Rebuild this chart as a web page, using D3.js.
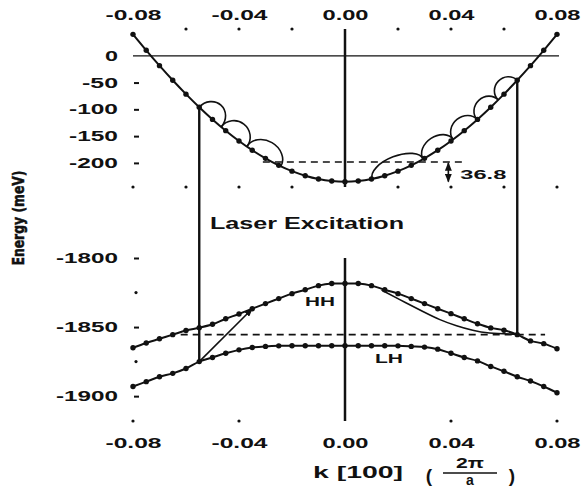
<!DOCTYPE html>
<html>
<head>
<meta charset="utf-8">
<script src="https://cdn.jsdelivr.net/npm/d3@7/dist/d3.min.js"></script>
<style>
  body { margin: 0; background: #fff; }
  text { font-family: "Liberation Sans", Arial, sans-serif; font-weight: bold; fill: #111; }
</style>
</head>
<body>
<svg id="chart" width="582" height="487"></svg>
<script>
// wave vector samples, k [100] in units of 2pi/a
const kValues = [-0.08, -0.075, -0.07, -0.065, -0.06, -0.055, -0.05, -0.045, -0.04, -0.035, -0.03,
  -0.025, -0.02, -0.015, -0.01, -0.005, 0, 0.005, 0.01, 0.015, 0.02, 0.025, 0.03, 0.035, 0.04,
  0.045, 0.05, 0.055, 0.06, 0.065, 0.07, 0.075, 0.08];

// energies in meV
const cbEnergy = [40, 10.2, -18.4, -45.7, -71.6, -96, -118.8, -139.8, -159, -176.3, -191.5,
  -204.6, -215.4, -223.9, -230.1, -233.8, -235, -233.8, -230.1, -223.9, -215.4, -204.6, -191.5,
  -176.3, -159, -139.8, -118.8, -96, -71.6, -45.7, -18.4, 10.2, 40];
const hhEnergy = [-1865, -1861.5, -1858.5, -1855.5, -1852.5, -1850.5, -1848, -1844, -1840.5,
  -1836.7, -1833, -1829.4, -1825.8, -1823, -1820, -1818.5, -1818.5, -1818.5, -1820, -1823,
  -1825.8, -1829.4, -1833, -1836.7, -1840.3, -1844, -1847.6, -1850.6, -1852.3, -1855.5, -1860,
  -1862, -1865.7];
const lhEnergy = [-1893, -1889.5, -1886, -1883.5, -1880, -1875, -1872, -1869, -1866.5, -1864.8,
  -1864, -1863.6, -1863.5, -1863.5, -1863.5, -1863.5, -1863.5, -1863.5, -1863.5, -1863.5,
  -1863.6, -1864, -1864.5, -1866, -1869, -1872, -1874.5, -1878.5, -1882, -1886, -1889, -1893,
  -1897.5];

// laser excitation: k, energy in conduction band, energy in valence band
const laserK = [-0.055, 0.065];
const laserTopE = [-96, -45.7];
const laserBottomE = [-1875, -1855.5];

// LO phonon cascade (36.8 meV steps)
const leftCascadeK = [-0.055, -0.0467, -0.037, -0.0242];
const leftCascadeE = [-96, -132.8, -169.6, -206.4];
const rightCascadeK = [0.065, 0.0578, 0.0499, 0.0408, 0.0295, 0.0103];
const rightCascadeE = [-45.7, -82.5, -119.3, -156.1, -192.9, -229.7];

const phononLevel = -198.2;
const cbMinimum = -235;
const phononLineK = [-0.031, 0.045];
const phononArrowK = 0.039;
const hhLineE = -1855.5;
const hhLineK = [-0.062, 0.0755];

// hole relaxation paths
const holeArrowK = [-0.055, -0.035];
const holeArrowE = [-1875, -1836.7];
const holeRelaxK = [0.0138, 0.0233, 0.0296, 0.0358, 0.0421, 0.0484, 0.0535, 0.0648];
const holeRelaxE = [-1823.2, -1832.8, -1838.9, -1844.9, -1849.2, -1852.6, -1854.5, -1855.2];

// axes
const xTickLabels = [-0.08, -0.04, 0, 0.04, 0.08];
const xTopDots = [-0.06, -0.04, -0.02, 0.02, 0.04, 0.06];
const xMidDots = [-0.08, -0.06, -0.04, -0.02, 0.02, 0.04, 0.06, 0.08];
const xBottomDots = [-0.08, -0.04, 0.04, 0.08];
const upperTicks = [0, -50, -100, -150, -200];
const lowerTicks = [-1800, -1850, -1900];
const lowerMinorTicks = [-1825, -1875];

const upperDomain = [-245, 50];
const lowerDomain = [-1918, -1800];

const svg = d3.select("#chart");
const ink = "#111";

const x = d3.scaleLinear().domain([-0.08, 0.08]).range([133, 557]);
const yU = d3.scaleLinear().domain(upperDomain).range([187, 29]);
const yL = d3.scaleLinear().domain(lowerDomain).range([421, 258]);

// width of the wide tick lettering
const charW = { "-": 10, ".": 7 };
const labelWidth = s => d3.sum(s.split(""), c => charW[c] || 13);
const fmtK = d => d.toFixed(2);
const fmtE = d => String(d);

svg.append("defs").append("marker")
  .attr("id", "head")
  .attr("viewBox", "0 -4 10 8")
  .attr("refX", 9).attr("refY", 0)
  .attr("markerUnits", "userSpaceOnUse")
  .attr("markerWidth", 9).attr("markerHeight", 7)
  .attr("orient", "auto-start-reverse")
  .append("path").attr("d", "M0,-4L10,0L0,4Z").attr("fill", ink);

// top and bottom axes
function styleXAxis(g) {
  g.select(".domain").remove();
  g.selectAll("line").remove();
  g.selectAll("text")
    .attr("font-family", null)
    .style("font-size", "14px")
    .attr("textLength", d => labelWidth(fmtK(d)))
    .attr("lengthAdjust", "spacingAndGlyphs");
}
svg.append("g").attr("transform", "translate(0,29)")
  .call(d3.axisTop(x).tickValues(xTickLabels).tickSize(0).tickPadding(9).tickFormat(fmtK))
  .call(styleXAxis);
svg.append("g").attr("transform", "translate(0,421)")
  .call(d3.axisBottom(x).tickValues(xTickLabels).tickSize(0).tickPadding(17).tickFormat(fmtK))
  .call(styleXAxis);

// left axes
function styleYAxis(g) {
  g.select(".domain").remove();
  g.selectAll("line").attr("stroke", ink).attr("stroke-width", 2);
  g.selectAll("text")
    .attr("font-family", null)
    .style("font-size", "14px")
    .attr("textLength", d => labelWidth(fmtE(d)))
    .attr("lengthAdjust", "spacingAndGlyphs");
}
svg.append("g").attr("transform", "translate(134,0)")
  .call(d3.axisLeft(yU).tickValues(upperTicks).tickFormat(fmtE)
    .tickSizeInner(-5).tickSizeOuter(0).tickPadding(16))
  .call(styleYAxis)
  .call(g => g.selectAll(".tick").filter(d => d === 0).select("line").remove());
svg.append("g").attr("transform", "translate(134,0)")
  .call(d3.axisLeft(yL).tickValues(lowerTicks).tickFormat(fmtE)
    .tickSizeInner(-5).tickSizeOuter(0).tickPadding(16))
  .call(styleYAxis);

// dotted frame ticks
const dots = svg.append("g").attr("fill", ink);
dots.selectAll(".td").data(xTopDots).join("circle")
  .attr("cx", d => x(d)).attr("cy", yU(upperDomain[1])).attr("r", 1.6);
dots.selectAll(".md").data(xMidDots).join("circle")
  .attr("cx", d => x(d)).attr("cy", yU(upperDomain[0])).attr("r", 1.6);
dots.selectAll(".bd").data(xBottomDots).join("circle")
  .attr("cx", d => x(d)).attr("cy", yL(lowerDomain[0])).attr("r", 1.6);
dots.selectAll(".ld").data(lowerMinorTicks).join("circle")
  .attr("cx", 136).attr("cy", d => yL(d)).attr("r", 1.6);

// zero line and k = 0 line
svg.append("line")
  .attr("x1", x(-0.08)).attr("x2", x(0.08) + 2)
  .attr("y1", yU(0)).attr("y2", yU(0))
  .attr("stroke", ink).attr("stroke-width", 1.3);
svg.append("line")
  .attr("x1", x(0)).attr("x2", x(0))
  .attr("y1", yU(upperDomain[1])).attr("y2", yU(upperDomain[0]))
  .attr("stroke", ink).attr("stroke-width", 2.5);
svg.append("line")
  .attr("x1", x(0)).attr("x2", x(0))
  .attr("y1", yL(lowerDomain[1])).attr("y2", yL(lowerDomain[0]))
  .attr("stroke", ink).attr("stroke-width", 2.5);

// dashed levels
svg.append("line")
  .attr("x1", x(phononLineK[0])).attr("x2", x(phononLineK[1]))
  .attr("y1", yU(phononLevel)).attr("y2", yU(phononLevel))
  .attr("stroke", ink).attr("stroke-width", 1.6).attr("stroke-dasharray", "7,5");
svg.append("line")
  .attr("x1", x(hhLineK[0])).attr("x2", x(hhLineK[1]))
  .attr("y1", yL(hhLineE)).attr("y2", yL(hhLineE))
  .attr("stroke", ink).attr("stroke-width", 1.6).attr("stroke-dasharray", "7,5");

// laser excitation lines
svg.selectAll(".laser").data(laserK).join("line")
  .attr("x1", d => x(d)).attr("x2", d => x(d))
  .attr("y1", (d, i) => yU(laserTopE[i]))
  .attr("y2", (d, i) => yL(laserBottomE[i]))
  .attr("stroke", ink).attr("stroke-width", 2.4);

// bands
function band(energies, y) {
  const pts = kValues.map((k, i) => [x(k), y(energies[i])]);
  svg.append("path")
    .attr("d", d3.line().curve(d3.curveCatmullRom)(pts))
    .attr("fill", "none").attr("stroke", ink).attr("stroke-width", 2);
  svg.append("g").selectAll("circle").data(pts).join("circle")
    .attr("cx", d => d[0]).attr("cy", d => d[1]).attr("r", 2.7).attr("fill", ink);
}
band(cbEnergy, yU);
band(hhEnergy, yL);
band(lhEnergy, yL);

// phonon emission loops
function loops(ks, es, h, sweep) {
  const pts = ks.map((k, i) => [x(k), yU(es[i])]);
  const paths = d3.pairs(pts).map(([a, b]) => {
    const L = Math.hypot(b[0] - a[0], b[1] - a[1]);
    const ang = Math.atan2(b[1] - a[1], b[0] - a[0]) * 180 / Math.PI;
    return `M${a}A${L / 2},${h},${ang},0,${sweep},${b}`;
  });
  svg.append("g").selectAll("path").data(paths).join("path")
    .attr("d", d => d).attr("fill", "none").attr("stroke", ink).attr("stroke-width", 1.6);
}
loops(leftCascadeK, leftCascadeE, 16, 1);
loops(rightCascadeK, rightCascadeE, 13, 0);

// 36.8 meV arrow
svg.append("line")
  .attr("x1", x(phononArrowK)).attr("x2", x(phononArrowK))
  .attr("y1", yU(phononLevel) + 1).attr("y2", yU(cbMinimum))
  .attr("stroke", ink).attr("stroke-width", 1.6)
  .attr("marker-start", "url(#head)").attr("marker-end", "url(#head)");
svg.append("text").text("36.8")
  .attr("x", x(phononArrowK) + 12).attr("y", yU(cbMinimum) - 3)
  .style("font-size", "12.5px").attr("textLength", 46).attr("lengthAdjust", "spacingAndGlyphs");

// hole relaxation
svg.append("line")
  .attr("x1", x(holeArrowK[0])).attr("y1", yL(holeArrowE[0]))
  .attr("x2", x(holeArrowK[1])).attr("y2", yL(holeArrowE[1]))
  .attr("stroke", ink).attr("stroke-width", 1.6).attr("marker-end", "url(#head)");
svg.append("path")
  .attr("d", d3.line().curve(d3.curveBasis)(holeRelaxK.map((k, i) => [x(k), yL(holeRelaxE[i])])))
  .attr("fill", "none").attr("stroke", ink).attr("stroke-width", 1.6);

// labels
svg.append("text").text("Laser Excitation")
  .attr("x", 210).attr("y", 229)
  .style("font-size", "16px").attr("textLength", 194).attr("lengthAdjust", "spacingAndGlyphs");
svg.append("text").text("HH")
  .attr("x", 305).attr("y", 306)
  .style("font-size", "12px").attr("textLength", 30).attr("lengthAdjust", "spacingAndGlyphs");
svg.append("text").text("LH")
  .attr("x", 375).attr("y", 363)
  .style("font-size", "12px").attr("textLength", 28).attr("lengthAdjust", "spacingAndGlyphs");

svg.append("text").text("Energy (meV)")
  .attr("transform", "translate(23.5,218) rotate(-90)")
  .attr("text-anchor", "middle")
  .style("font-family", "'Liberation Sans Narrow', 'DejaVu Sans Condensed', sans-serif")
  .style("font-size", "15px").style("font-weight", "900")
  .style("stroke", ink).style("stroke-width", "0.5px")
  .attr("textLength", 95).attr("lengthAdjust", "spacingAndGlyphs");

// x axis title: k [100] (2pi / a)
svg.append("text").text("k [100]")
  .attr("x", 313).attr("y", 478)
  .style("font-size", "16px")
  .attr("textLength", 90).attr("lengthAdjust", "spacingAndGlyphs");
svg.append("text").text("(")
  .attr("x", 429).attr("y", 482).attr("text-anchor", "middle")
  .style("font-size", "19px");
svg.append("text").text(")")
  .attr("x", 512).attr("y", 482).attr("text-anchor", "middle")
  .style("font-size", "19px");
svg.append("text").text("2π")
  .attr("x", 470).attr("y", 468).attr("text-anchor", "middle")
  .style("font-size", "14px").attr("textLength", 28).attr("lengthAdjust", "spacingAndGlyphs");
svg.append("line")
  .attr("x1", 443).attr("x2", 497).attr("y1", 473).attr("y2", 473)
  .attr("stroke", ink).attr("stroke-width", 1.3);
svg.append("text").text("a")
  .attr("x", 470).attr("y", 484.5).attr("text-anchor", "middle")
  .style("font-size", "14px");
</script>
</body>
</html>
